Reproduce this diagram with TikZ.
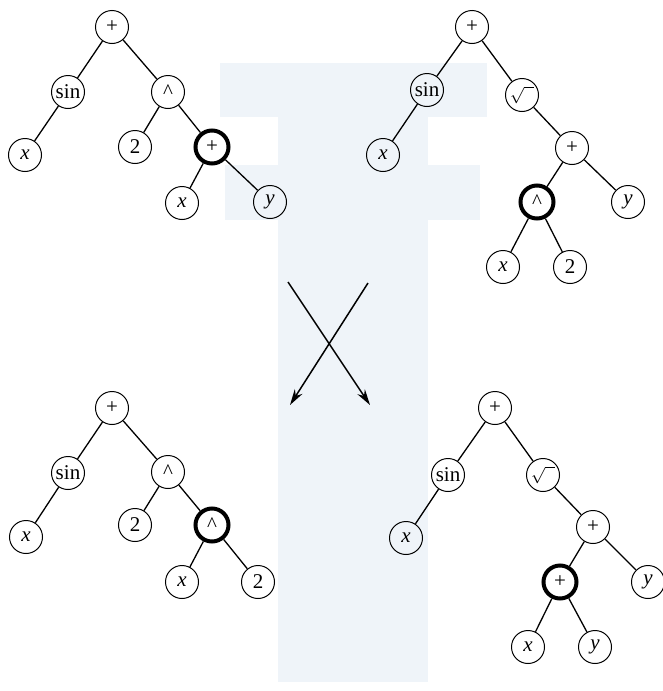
\documentclass[tikz,border=0pt]{standalone}
\usepackage{fontspec}
\setmainfont{Liberation Serif}
\usetikzlibrary{arrows.meta}
\definecolor{paleblue}{RGB}{239,244,249}
\begin{document}
\begin{tikzpicture}[x=0.5pt, y=-0.5pt, >={Stealth[length=8pt,width=4.5pt]},
		op/.style={circle, draw, line width=0.5pt, minimum size=16.5pt, inner sep=0pt, font=\fontsize{10.5}{12}\selectfont},
		hot/.style={op, line width=2pt},
		edge/.style={line width=0.65pt}]
		\useasboundingbox (0,0) rectangle (663,691);
		
		% Background band
		\fill[paleblue] (278,63) rectangle (428,682);
		\fill[paleblue] (220,63) rectangle (487,117);
		\fill[paleblue] (225,165) rectangle (480,220);
		
		% Parent 1
		\node[op] (tlplus) at (112,27) {+};
		\node[op] (tlsin) at (68,92) {sin};
		\node[op] (tlpow) at (168,92) {\textasciicircum};
		\node[op] (tlx) at (25,155) {\textit{x}};
		\node[op] (tltwo) at (135,147) {2};
		\node[hot] (tlsum) at (212,147) {+};
		\node[op] (tlxx) at (182,203) {\textit{x}};
		\node[op] (tly) at (270,202) {\textit{y}};
		\draw[edge] (tlplus) -- (tlsin);
		\draw[edge] (tlplus) -- (tlpow);
		\draw[edge] (tlsin) -- (tlx);
		\draw[edge] (tlpow) -- (tltwo);
		\draw[edge] (tlpow) -- (tlsum);
		\draw[edge] (tlsum) -- (tlxx);
		\draw[edge] (tlsum) -- (tly);
		
		% Parent 2
		\node[op] (trplus) at (472,27) {+};
		\node[op] (trsin) at (427,90) {sin};
		\node[op] (trroot) at (522,95) {\fontsize{8}{9}\selectfont$\sqrt{\hphantom{x}}$};
		\node[op] (trx) at (383,155) {\textit{x}};
		\node[op] (trsum) at (572,148) {+};
		\node[hot] (trpow) at (537,202) {\textasciicircum};
		\node[op] (try) at (628,202) {\textit{y}};
		\node[op] (trxx) at (503,267) {\textit{x}};
		\node[op] (trtwo) at (570,267) {2};
		\draw[edge] (trplus) -- (trsin);
		\draw[edge] (trplus) -- (trroot);
		\draw[edge] (trsin) -- (trx);
		\draw[edge] (trroot) -- (trsum);
		\draw[edge] (trsum) -- (trpow);
		\draw[edge] (trsum) -- (try);
		\draw[edge] (trpow) -- (trxx);
		\draw[edge] (trpow) -- (trtwo);
		
		% Crossover
		\coordinate (a1) at (288,282);
		\coordinate (a2) at (370,405);
		\coordinate (b1) at (368,283);
		\coordinate (b2) at (290,405);
		\draw[->, line width=0.75pt] (a1) -- (a2);
		\draw[->, line width=0.75pt] (b1) -- (b2);
		
		% Child 1
		\node[op] (blplus) at (112,408) {+};
		\node[op] (blsin) at (68,473) {sin};
		\node[op] (blpow) at (168,472) {\textasciicircum};
		\node[op] (blx) at (26,537) {\textit{x}};
		\node[op] (bltwo) at (135,525) {2};
		\node[hot] (blsub) at (212,525) {\textasciicircum};
		\node[op] (blxx) at (182,582) {\textit{x}};
		\node[op] (bltwob) at (258,582) {2};
		\draw[edge] (blplus) -- (blsin);
		\draw[edge] (blplus) -- (blpow);
		\draw[edge] (blsin) -- (blx);
		\draw[edge] (blpow) -- (bltwo);
		\draw[edge] (blpow) -- (blsub);
		\draw[edge] (blsub) -- (blxx);
		\draw[edge] (blsub) -- (bltwob);
		
		% Child 2
		\node[op] (brplus) at (495,408) {+};
		\node[op] (brsin) at (448,475) {sin};
		\node[op] (brroot) at (543,475) {\fontsize{8}{9}\selectfont$\sqrt{\hphantom{x}}$};
		\node[op] (brx) at (406,538) {\textit{x}};
		\node[op] (brsum) at (593,527) {+};
		\node[hot] (brsub) at (560,582) {+};
		\node[op] (bry) at (648,582) {\textit{y}};
		\node[op] (brxx) at (528,647) {\textit{x}};
		\node[op] (bryy) at (595,647) {\textit{y}};
		\draw[edge] (brplus) -- (brsin);
		\draw[edge] (brplus) -- (brroot);
		\draw[edge] (brsin) -- (brx);
		\draw[edge] (brroot) -- (brsum);
		\draw[edge] (brsum) -- (brsub);
		\draw[edge] (brsum) -- (bry);
		\draw[edge] (brsub) -- (brxx);
		\draw[edge] (brsub) -- (bryy);
	\end{tikzpicture}
\end{document}
